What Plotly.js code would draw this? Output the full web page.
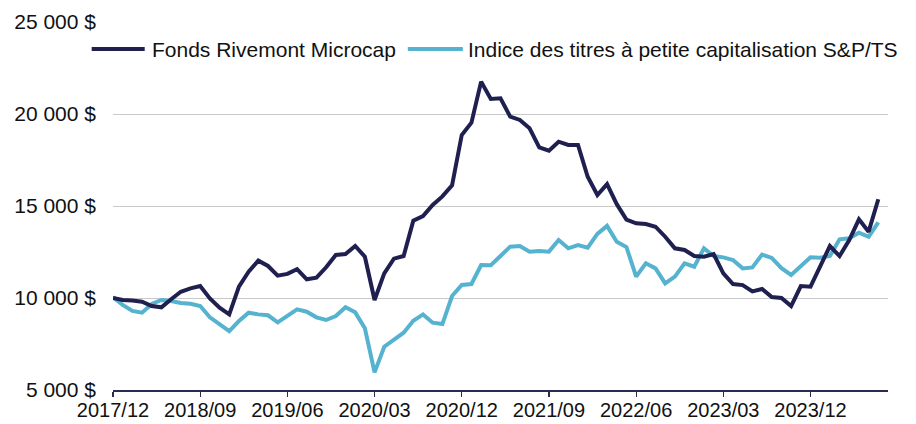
<!DOCTYPE html>
<html>
<head>
<meta charset="utf-8">
<script src="https://cdn.plot.ly/plotly-3.0.1.min.js"></script>
<style>
  html, body { margin: 0; padding: 0; background: #ffffff; }
  #chart { width: 916px; height: 424px; }
</style>
</head>
<body>
<div id="chart"></div>
<script>
// ---- Data (monthly values of a 10 000 $ investment, 2017/12 .. 2024/07) ----
var seriesNames = ['Fonds Rivemont Microcap', 'Indice des titres à petite capitalisation S&P/TS'];

var fundValues = [
  10000, 9890, 9860, 9800, 9565, 9495, 9930, 10340, 10525, 10650,
  9980, 9475, 9110, 10615, 11430, 12030, 11740, 11215, 11310, 11570,
  11015, 11105, 11670, 12340, 12390, 12825, 12245, 9890, 11340, 12140,
  12280, 14200, 14455, 15055, 15520, 16120, 18860, 19530, 21760, 20815,
  20850, 19855, 19675, 19220, 18190, 18005, 18495, 18315, 18315, 16590,
  15600, 16190, 15100, 14260, 14060, 14020, 13875, 13330, 12700, 12610,
  12280, 12245, 12390, 11340, 10760, 10700, 10360, 10490, 10055, 10000,
  9565, 10650, 10615, 11740, 12825, 12280, 13150, 14275, 13605, 15365
];

var indexValues = [
  10050, 9620, 9295, 9200, 9675, 9890, 9840, 9730, 9690, 9565,
  8950, 8570, 8205, 8750, 9200, 9110, 9060, 8680, 9030, 9385,
  9255, 8950, 8805, 9020, 9495, 9220, 8355, 5960, 7355, 7720,
  8115, 8765, 9110, 8660, 8585, 10110, 10705, 10760, 11790, 11780,
  12250, 12790, 12825, 12520, 12555, 12520, 13150, 12700, 12880, 12735,
  13480, 13920, 13060, 12770, 11160, 11885, 11610, 10795, 11160, 11885,
  11700, 12700, 12280, 12210, 12065, 11610, 11660, 12360, 12180, 11620,
  11250, 11740, 12210, 12190, 12280, 13190, 13245, 13550, 13330, 14115
];

var xTickLabels = ['2017/12', '2018/09', '2019/06', '2020/03', '2020/12', '2021/09', '2022/06', '2023/03', '2023/12'];
var yTickVals = [5000, 10000, 15000, 20000, 25000];
var yTickText = ['5 000 $', '10 000 $', '15 000 $', '20 000 $', '25 000 $'];

// month categories 2017/12 ... (one per value)
var months = [];
(function () {
  var y = 2017, m = 12;
  for (var i = 0; i < fundValues.length; i++) {
    months.push(y + '/' + (m < 10 ? '0' + m : m));
    m++; if (m > 12) { m = 1; y++; }
  }
})();

var navy = '#1f2050';
var aqua = '#55b3d0';
var fontFam = '"Liberation Sans", Arial, sans-serif';

var traces = [
  { x: months, y: indexValues, name: seriesNames[1], type: 'scatter', mode: 'lines',
    line: { color: aqua, width: 4, shape: 'linear' }, hoverinfo: 'skip', showlegend: false },
  { x: months, y: fundValues, name: seriesNames[0], type: 'scatter', mode: 'lines',
    line: { color: navy, width: 4, shape: 'linear' }, hoverinfo: 'skip', showlegend: false }
];

// legend drawn in paper coordinates
var legY = 0.9266;
var shapes = [
  { type: 'line', xref: 'paper', yref: 'paper', x0: -0.0275, x1: 0.0409, y0: legY, y1: legY,
    line: { color: navy, width: 4 } },
  { type: 'line', xref: 'paper', yref: 'paper', x0: 0.3804, x1: 0.4514, y0: legY, y1: legY,
    line: { color: aqua, width: 4 } }
];
var annotations = [
  { xref: 'paper', yref: 'paper', x: 0.0474, y: legY, xanchor: 'left', yanchor: 'middle',
    text: seriesNames[0], showarrow: false, font: { family: fontFam, size: 21, color: '#111111' } },
  { xref: 'paper', yref: 'paper', x: 0.4553, y: legY, xanchor: 'left', yanchor: 'middle',
    text: seriesNames[1], showarrow: false, font: { family: fontFam, size: 21, color: '#111111' } }
];

var layout = {
  width: 916, height: 424,
  margin: { l: 113, r: 28, t: 22, b: 34, pad: 0 },
  paper_bgcolor: '#ffffff', plot_bgcolor: '#ffffff',
  font: { family: fontFam, size: 21, color: '#111111' },
  showlegend: false,
  xaxis: {
    type: 'category',
    range: [0, 80],
    tickmode: 'array',
    tickvals: xTickLabels,
    ticktext: xTickLabels,
    showgrid: false, zeroline: false,
    showline: true, linecolor: '#2a2b55', linewidth: 1.5,
    ticks: 'outside', ticklen: 5, tickwidth: 1.2, tickcolor: '#2a2b55',
    ticklabelstandoff: -4,
    tickfont: { family: fontFam, size: 20, color: '#111111' },
    fixedrange: true
  },
  yaxis: {
    range: [5000, 25000],
    tickmode: 'array',
    tickvals: yTickVals,
    ticktext: yTickText,
    showgrid: true, gridcolor: '#c9c9c9', gridwidth: 1,
    zeroline: false, showline: false, ticks: '',
    ticklabelstandoff: 16,
    tickfont: { family: fontFam, size: 21, color: '#111111' },
    fixedrange: true
  },
  shapes: shapes,
  annotations: annotations
};

Plotly.newPlot('chart', traces, layout, { displayModeBar: false, staticPlot: true });
</script>
</body>
</html>
